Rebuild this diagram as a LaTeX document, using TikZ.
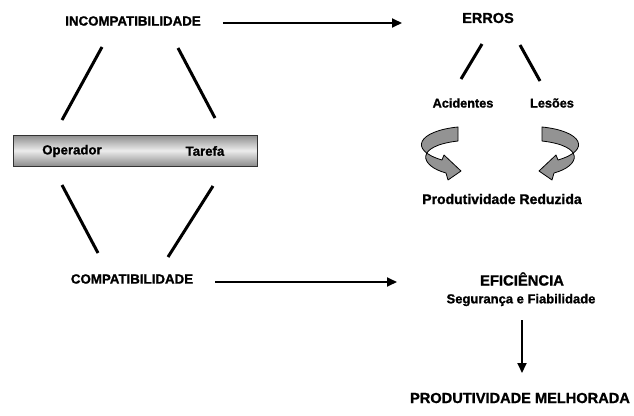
\documentclass[tikz,border=0pt]{standalone}
\usepackage{fontspec}
\setmainfont{Liberation Sans}[BoldFeatures={FakeBold=1.2}]
\usetikzlibrary{arrows.meta, positioning}

\tikzset{
  lbl/.style={font=\bfseries\fontsize{#1}{#1}\selectfont, inner sep=0pt},
  flow/.style={line width=1.8pt, -{Triangle[length=10pt, width=9pt]}},
  link/.style={line width=3pt},
  twist/.style={fill=gray!85, draw=black, line width=0.8pt, line join=round}
}

\begin{document}
\begin{tikzpicture}[x=1pt, y=-1pt]
  \useasboundingbox (0,0) rectangle (634,415);

  % left side
  \node[lbl=13.3] (incomp) at (133,21) {INCOMPATIBILIDADE};
  \node[lbl=13.3] (comp) at (132,279) {COMPATIBILIDADE};

  % bar
  \shade[top color=gray!90, bottom color=gray!90, middle color=gray!15] (13,135) rectangle (257,166);
  \draw[line width=1pt, black!80] (13,135) rectangle (257,166);
  \node[lbl=13.2] (oper) at (72,151) {Operador};
  \node[lbl=13.2] (tarefa) at (205,151) {Tarefa};

  \coordinate (ul1) at (102,47);  \coordinate (ul2) at (62,120);
  \coordinate (ur1) at (178,48);  \coordinate (ur2) at (215,118);
  \coordinate (ll1) at (62,185);  \coordinate (ll2) at (98,253);
  \coordinate (lr1) at (213,186); \coordinate (lr2) at (168,257);
  \draw[link] (ul1) -- (ul2);
  \draw[link] (ur1) -- (ur2);
  \draw[link] (ll1) -- (ll2);
  \draw[link] (lr1) -- (lr2);

  % right side
  \node[lbl=14.5] (erros) at (488,18) {ERROS};
  \node[lbl=12.7] (acid) at (463,103) {Acidentes};
  \node[lbl=12.7] (lesoes) at (552,103) {Lesões};
  \node[lbl=14] (prodred) at (502,199) {Produtividade Reduzida};

  \coordinate (el1) at (482,44);  \coordinate (el2) at (461,79);
  \coordinate (er1) at (520,45);  \coordinate (er2) at (540,81);
  \draw[link] (el1) -- (el2);
  \draw[link] (er1) -- (er2);

  % twisted arrows
  \draw[twist] (458,127) .. controls (418,131) and (408,150) .. (442,160)
    -- (444,155) -- (461,171) -- (448,180) -- (446,173)
    .. controls (420,166) and (414,146) .. (458,141) -- cycle;
  \draw[twist] (542,127) .. controls (582,131) and (592,150) .. (558,160)
    -- (556,155) -- (539,171) -- (552,180) -- (554,173)
    .. controls (580,166) and (586,146) .. (542,141) -- cycle;

  \node[lbl=14.8] (efic) at (522,279) {EFICIÊNCIA};
  \node[lbl=13] (seg) at (521,300) {Segurança e Fiabilidade};
  \node[lbl=14.6] (prodmel) at (520,398) {PRODUTIVIDADE MELHORADA};

  % arrows
  \draw[flow] (incomp.east) ++(22,2) coordinate (a1) -- (402,23) coordinate (a2);
  \draw[flow] (comp.east) ++(22,3) coordinate (b1) -- (397,282) coordinate (b2);
  \draw[flow] (seg.south) ++(1,14) coordinate (c1) -- (522,373) coordinate (c2);
\end{tikzpicture}
\end{document}
